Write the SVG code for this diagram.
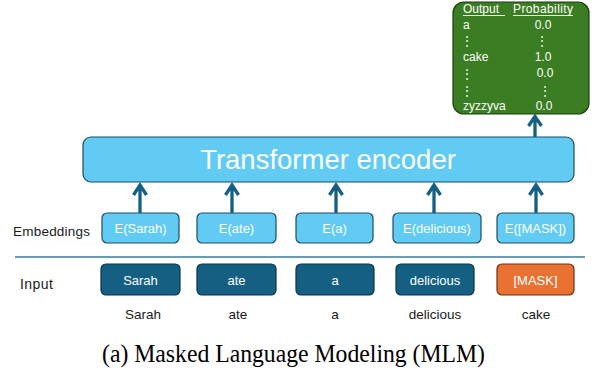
<svg xmlns="http://www.w3.org/2000/svg" width="596" height="369" viewBox="0 0 596 369">
  <defs>
    <style>
      .sans { font-family: "Liberation Sans", Arial, sans-serif; }
      .emb { fill: #61CBF4; stroke: #1d4d63; stroke-width: 1.2; }
      .inp { fill: #156082; stroke: #0c3346; stroke-width: 1.2; }
      .mask { fill: #E97132; stroke: #6b3214; stroke-width: 1.2; }
      .wtxt { fill: #ffffff; font-size: 13px; text-anchor: middle; }
      .ktxt { fill: #1a1a1a; font-size: 13.5px; }
      .arrow { stroke: #156082; stroke-width: 3.3; fill: none; stroke-linecap: butt; stroke-linejoin: miter; }
      .tbl { fill: #ffffff; font-size: 12px; }
    </style>
  </defs>

  <rect width="596" height="369" fill="#ffffff"/>

  <!-- output probability table -->
  <g id="output-table">
    <rect x="453" y="2" width="136" height="112" rx="11" fill="#3B7D23" stroke="#1d3d12" stroke-width="1.2"/>
    <g class="sans tbl">
      <text x="463" y="13">Output</text>
      <text x="513" y="13" textLength="60">Probability</text>
      <line x1="463" y1="15.5" x2="505" y2="15.5" stroke="#ffffff" stroke-width="0.9"/>
      <line x1="513" y1="15.5" x2="573" y2="15.5" stroke="#ffffff" stroke-width="0.9"/>
      <text x="463" y="29">a</text>
      <text x="543" y="29" text-anchor="middle">0.0</text>
      <text x="467" y="45" text-anchor="middle">⋮</text>
      <text x="542" y="45" text-anchor="middle">⋮</text>
      <text x="463" y="61">cake</text>
      <text x="543" y="61" text-anchor="middle">1.0</text>
      <text x="467" y="78" text-anchor="middle">⋮</text>
      <text x="545" y="77" text-anchor="middle">0.0</text>
      <text x="467" y="95" text-anchor="middle">⋮</text>
      <text x="545" y="95" text-anchor="middle">⋮</text>
      <text x="463" y="110">zyzzyva</text>
      <text x="544" y="110" text-anchor="middle">0.0</text>
    </g>
  </g>

  <!-- encoder block -->
  <g id="encoder">
    <rect x="83" y="137" width="491" height="45" rx="8" fill="#61CBF4" stroke="#1d4d63" stroke-width="1.2"/>
    <text x="328" y="169" class="sans" fill="#ffffff" font-size="27.5" text-anchor="middle">Transformer encoder</text>
  </g>

  <!-- row labels -->
  <g id="row-labels" class="sans ktxt">
    <text x="13" y="236" font-size="13.5" textLength="77">Embeddings</text>
    <text x="20" y="289" font-size="14" textLength="33">Input</text>
  </g>

  <!-- embedding nodes -->
  <g id="emb-sarah"><rect class="emb" x="102" y="213" width="77" height="30" rx="5"/><text class="sans wtxt" x="140.5" y="232.5">E(Sarah)</text></g>
  <g id="emb-ate"><rect class="emb" x="197" y="213" width="79" height="30" rx="5"/><text class="sans wtxt" x="236.5" y="232.5">E(ate)</text></g>
  <g id="emb-a"><rect class="emb" x="296" y="213" width="77" height="30" rx="5"/><text class="sans wtxt" x="334.5" y="232.5">E(a)</text></g>
  <g id="emb-delicious"><rect class="emb" x="393" y="213" width="88" height="30" rx="5"/><text class="sans wtxt" x="437" y="232.5">E(delicious)</text></g>
  <g id="emb-mask"><rect class="emb" x="497" y="213" width="77" height="30" rx="5"/><text class="sans wtxt" x="535.5" y="232.5">E([MASK])</text></g>

  <!-- separator -->
  <line x1="15" y1="257" x2="585" y2="257" stroke="#6b9bb5" stroke-width="2"/>

  <!-- input token nodes -->
  <g id="in-sarah"><rect class="inp" x="101" y="264" width="79" height="31" rx="5"/><text class="sans wtxt" x="140.5" y="284.5" font-size="13.5">Sarah</text></g>
  <g id="in-ate"><rect class="inp" x="197" y="264" width="79" height="31" rx="5"/><text class="sans wtxt" x="236.5" y="284.5" font-size="13.5">ate</text></g>
  <g id="in-a"><rect class="inp" x="296" y="264" width="78" height="31" rx="5"/><text class="sans wtxt" x="335" y="284.5" font-size="13.5">a</text></g>
  <g id="in-delicious"><rect class="inp" x="396" y="264" width="78" height="31" rx="5"/><text class="sans wtxt" x="435" y="284.5" font-size="13.5">delicious</text></g>
  <g id="in-mask"><rect class="mask" x="497" y="264" width="77" height="31" rx="5"/><text class="sans wtxt" x="535.5" y="284.5" font-size="13.5">[MASK]</text></g>

  <!-- original tokens -->
  <g id="tokens" class="sans ktxt" text-anchor="middle">
    <text x="143" y="318.5">Sarah</text>
    <text x="238" y="318.5">ate</text>
    <text x="335" y="318.5">a</text>
    <text x="435" y="318.5">delicious</text>
    <text x="536" y="318.5">cake</text>
  </g>

  <!-- connectors -->
  <g id="connectors" class="arrow">
    <path d="M140 213 V184.5 M133.5 195 L140 185 L146.5 195"/>
    <path d="M232 213 V184.5 M225.5 195 L232 185 L238.5 195"/>
    <path d="M336 213 V184.5 M329.5 195 L336 185 L342.5 195"/>
    <path d="M434 213 V184.5 M427.5 195 L434 185 L440.5 195"/>
    <path d="M536 213 V184.5 M529.5 195 L536 185 L542.5 195"/>
    <path d="M535 137 V116 M528.5 126 L535 116.5 L541.5 126"/>
  </g>

  <!-- caption -->
  <text x="102" y="361.5" font-family="'Liberation Serif', 'Times New Roman', serif" font-size="25" fill="#000000" textLength="383" lengthAdjust="spacingAndGlyphs">(a) Masked Language Modeling (MLM)</text>
</svg>
